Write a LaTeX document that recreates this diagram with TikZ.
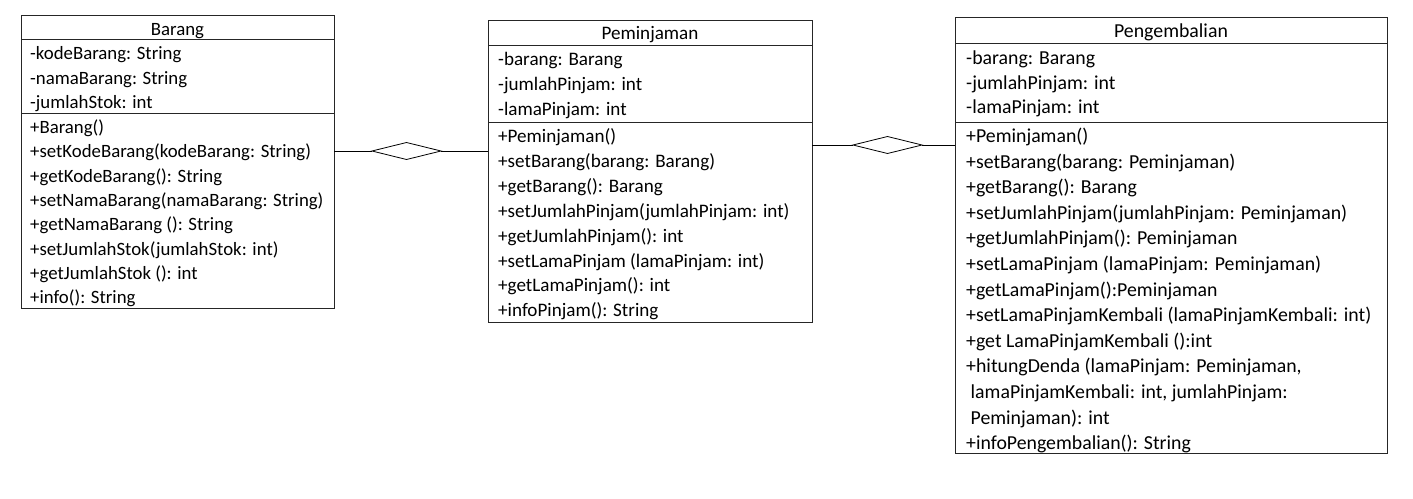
\documentclass[tikz,border=0pt]{standalone}
\usepackage{fontspec}
\setmainfont{Carlito}
\usetikzlibrary{shapes.geometric}
\begin{document}
\begin{tikzpicture}[x=1pt,y=-1pt,
  umlbox/.style={draw=black!85, line width=0.9pt, rectangle, anchor=north west, inner sep=0pt, outer sep=0pt},
  sepline/.style={draw=black!85, line width=0.9pt},
  txt/.style={anchor=base west, inner sep=0pt},
  ttl/.style={anchor=base, inner sep=0pt},
  fb/.style={font=\fontsize{18.8}{22}\selectfont},
  fp/.style={font=\fontsize{19.1}{22}\selectfont},
  fg/.style={font=\fontsize{19.8}{22}\selectfont},
  agg/.style={diamond, draw=black, line width=0.8pt, fill=white, inner sep=0pt, outer sep=0pt, minimum width=69pt, minimum height=17pt},
  conn/.style={draw=black, line width=0.8pt}]
\useasboundingbox[fill=white] (0,0) rectangle (1413,498);

% ---------- Barang ----------
\node[umlbox, minimum width=313pt, minimum height=293pt] (barang) at (21,15) {};
\draw[sepline] (21,39) -- (334,39);
\draw[sepline] (21,113) -- (334,113);
\node[ttl,fb] (barangT) at (177.5,35.5) {Barang};
\foreach \t [count=\i] in {{-kodeBarang: String},{-namaBarang: String},{-jumlahStok: int}}
  \node[txt,fb] (ba\i) at (30,{53+24.5*(\i-1)+6.5}) {\t};
\foreach \t [count=\i] in {{+Barang()},{+setKodeBarang(kodeBarang: String)},{+getKodeBarang(): String},{+setNamaBarang(namaBarang: String)},{+getNamaBarang (): String},{+setJumlahStok(jumlahStok: int)},{+getJumlahStok (): int},{+info(): String}}
  \node[txt,fb] (bm\i) at (30,{127+24.3*(\i-1)+6.5}) {\t};

% ---------- Peminjaman ----------
\node[umlbox, minimum width=324pt, minimum height=302pt] (pem) at (488,20) {};
\draw[sepline] (488,45) -- (812,45);
\draw[sepline] (488,122) -- (812,122);
\node[ttl,fp] (pemT) at (650,39.5) {Peminjaman};
\foreach \t [count=\i] in {{-barang: Barang},{-jumlahPinjam: int},{-lamaPinjam: int}}
  \node[txt,fp] (pa\i) at (498,{59+25*(\i-1)+6.5}) {\t};
\foreach \t [count=\i] in {{+Peminjaman()},{+setBarang(barang: Barang)},{+getBarang(): Barang},{+setJumlahPinjam(jumlahPinjam: int)},{+getJumlahPinjam(): int},{+setLamaPinjam (lamaPinjam: int)},{+getLamaPinjam(): int},{+infoPinjam(): String}}
  \node[txt,fp] (pm\i) at (498,{136+24.9*(\i-1)+6.5}) {\t};

% ---------- Pengembalian ----------
\node[umlbox, minimum width=432pt, minimum height=436pt] (peng) at (955,17) {};
\draw[sepline] (955,43) -- (1387,43);
\draw[sepline] (955,122) -- (1387,122);
\node[ttl,fg] (pengT) at (1171,37) {Pengembalian};
\foreach \t [count=\i] in {{-barang: Barang},{-jumlahPinjam: int},{-lamaPinjam: int}}
  \node[txt,fg] (ga\i) at (966,{58+24.5*(\i-1)+6.5}) {\t};
\foreach \t [count=\i] in {{+Peminjaman()},{+setBarang(barang: Peminjaman)},{+getBarang(): Barang},{+setJumlahPinjam(jumlahPinjam: Peminjaman)},{+getJumlahPinjam(): Peminjaman},{+setLamaPinjam (lamaPinjam: Peminjaman)},{+getLamaPinjam():Peminjaman},{+setLamaPinjamKembali (lamaPinjamKembali: int)},{+get LamaPinjamKembali ():int},{+hitungDenda (lamaPinjam: Peminjaman,},{\ lamaPinjamKembali: int, jumlahPinjam:},{\ Peminjaman): int},{+infoPengembalian(): String}}
  \node[txt,fg] (gm\i) at (966,{136+25.6*(\i-1)+6.5}) {\t};

% ---------- Aggregations ----------
\node[agg] (d1) at (406.5,151) {};
\draw[conn] (barang.east |- d1) -- (d1.west);
\draw[conn] (d1.east) -- (pem.west |- d1);
\node[agg] (d2) at (887.5,145) {};
\draw[conn] (pem.east |- d2) -- (d2.west);
\draw[conn] (d2.east) -- (peng.west |- d2);
\end{tikzpicture}
\end{document}
